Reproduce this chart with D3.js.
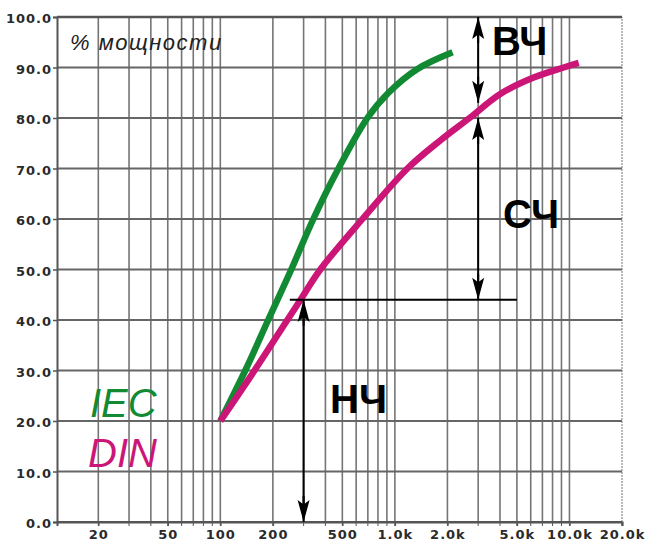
<!DOCTYPE html>
<html>
<head>
<meta charset="utf-8">
<script src="https://cdn.jsdelivr.net/npm/d3@7"></script>
<style>
    body { margin: 0; background: #fff; }
</style>
</head>
<body>
<div id="chart"></div>
<script>
// values
const iecFreq = [100, 139, 188, 255, 341, 475, 696, 919, 1348, 2140];
const iecPower = [20, 30, 40, 50, 60, 70, 80, 85, 89.7, 93];
const dinFreq = [100, 157, 242, 288, 374, 652, 1180, 1826, 2677, 4033, 6234, 9267, 11300];
const dinPower = [20, 30, 40, 44, 50, 60, 70, 75.6, 80, 84.8, 88, 90, 90.9];

const yTicks = [0, 10, 20, 30, 40, 50, 60, 70, 80, 90, 100];
const xGrid = [20, 30, 40, 50, 60, 70, 80, 90, 100, 200, 300, 400, 500, 600, 700, 800, 900,
    1000, 2000, 3000, 4000, 5000, 6000, 7000, 8000, 9000, 10000, 20000];
const xLabelTicks = [20, 50, 100, 200, 500, 1000, 2000, 5000, 10000, 20000];
const xLabels = ["20", "50", "100", "200", "500", "1.0k", "2.0k", "5.0k", "10.0k", "20.0k"];

// band split annotations (frequency, % power)
const lowFreq = 300, lowLevel = 44;
const splitLine = [250, 5000];
const midFreq = 3000, highTip = 83, midTip = 80;

const width = 665, height = 551;
const margin = { top: 17, right: 43, bottom: 29, left: 57 };

const svg = d3.select("#chart")
    .append("svg")
    .attr("width", width)
    .attr("height", height);

const x = d3.scaleLog().domain([11.6, 20000]).range([margin.left, width - margin.right]);
const y = d3.scaleLinear().domain([0, 100]).range([height - margin.bottom, margin.top]);

const gridGroup = svg.append("g").attr("class", "grid");

gridGroup.selectAll("line.v").data(xGrid).enter().append("line")
    .attr("class", "v")
    .attr("x1", d => x(d)).attr("x2", d => x(d))
    .attr("y1", y(0)).attr("y2", y(100))
    .attr("stroke", d => d == 20000 ? "#aaa" : "#757575")
    .attr("stroke-dasharray", d => d == 20000 ? "2,1" : null)
    .attr("stroke-width", 1.6);

gridGroup.selectAll("line.h").data(yTicks).enter().append("line")
    .attr("class", "h")
    .attr("x1", x.range()[0]).attr("x2", x.range()[1])
    .attr("y1", d => y(d)).attr("y2", d => y(d))
    .attr("stroke", d => d == 100 || d == 0 ? "#555" : "#666")
    .attr("stroke-width", d => d == 100 ? 2.5 : 1.8);

// left axis
const yAxis = d3.axisLeft(y).tickValues(yTicks).tickSize(4).tickFormat(d3.format(".1f"));
const yAxisGroup = svg.append("g")
    .attr("transform", `translate(${margin.left},0)`)
    .call(yAxis);
yAxisGroup.select(".domain").attr("stroke", "#555").attr("stroke-width", 2);

// bottom axis
const xAxis = d3.axisBottom(x).tickValues(xLabelTicks).tickSize(4)
    .tickFormat((d, i) => xLabels[i]);
const xAxisGroup = svg.append("g")
    .attr("transform", `translate(0,${y(0)})`)
    .call(xAxis);
xAxisGroup.select(".domain").attr("stroke", "#555").attr("stroke-width", 2);

svg.append("g")
    .selectAll("line").data(xGrid).enter().append("line")
    .attr("x1", d => x(d)).attr("x2", d => x(d))
    .attr("y1", y(0)).attr("y2", y(0) + 4)
    .attr("stroke", "#555");

svg.selectAll(".tick line").attr("stroke", "#555").attr("stroke-width", 1.5);
svg.selectAll(".tick text")
    .attr("font-family", "'DejaVu Sans', sans-serif")
    .attr("font-weight", "bold")
    .attr("font-size", 13)
    .attr("letter-spacing", 1)
    .attr("fill", "#2a2a2a");
yAxisGroup.selectAll(".tick text").attr("dy", "0.45em").attr("x", -5);
xAxisGroup.selectAll(".tick text").attr("y", 8);

// curves
const line = d3.line()
    .x(d => x(d[0]))
    .y(d => y(d[1]))
    .curve(d3.curveCatmullRom.alpha(0.5));

svg.append("path")
    .datum(iecFreq.map((f, i) => [f, iecPower[i]]))
    .attr("d", line)
    .attr("fill", "none")
    .attr("stroke", "#118a33")
    .attr("stroke-width", 6.5);

svg.append("path")
    .datum(dinFreq.map((f, i) => [f, dinPower[i]]))
    .attr("d", line)
    .attr("fill", "none")
    .attr("stroke", "#cc1677")
    .attr("stroke-width", 6.5);

// arrows
const annot = svg.append("g").attr("class", "annot");

const arrowHead = (px, py, dir) => {
    // dir: -1 points up, 1 points down
    const l = 26 * -dir, w = 6;
    annot.append("path")
        .attr("d", `M${px},${py} L${px + w},${py + l * 0.85} L${px + 1},${py + l * 0.7} L${px + 1},${py + l}`
            + ` L${px - 1},${py + l} L${px - 1},${py + l * 0.7} L${px - w},${py + l * 0.85} Z`)
        .attr("fill", "#000");
};

const vArrow = (f, v1, v2) => {
    annot.append("line")
        .attr("x1", x(f)).attr("x2", x(f))
        .attr("y1", y(v1)).attr("y2", y(v2))
        .attr("stroke", "#000").attr("stroke-width", 2);
    arrowHead(x(f), y(v1), -1);
    arrowHead(x(f), y(v2), 1);
};

annot.append("line")
    .attr("x1", x(splitLine[0])).attr("x2", x(splitLine[1]))
    .attr("y1", y(lowLevel)).attr("y2", y(lowLevel))
    .attr("stroke", "#000").attr("stroke-width", 2);

vArrow(lowFreq, lowLevel, 0);
vArrow(midFreq, 100, highTip);
vArrow(midFreq, midTip, lowLevel);

// labels
const bandLabel = (txt, px, py) => svg.append("text")
    .attr("x", px).attr("y", py)
    .attr("font-family", "'Liberation Sans', Arial, sans-serif")
    .attr("font-weight", "bold")
    .attr("font-size", 40)
    .attr("fill", "#000")
    .text(txt);

bandLabel("ВЧ", 492, 55);
bandLabel("СЧ", 503, 228);
bandLabel("НЧ", 330, 413);

svg.append("text")
    .attr("x", 70).attr("y", 50)
    .attr("font-family", "'Liberation Sans', Arial, sans-serif")
    .attr("font-style", "italic")
    .attr("font-size", 22)
    .attr("letter-spacing", 1.5)
    .attr("fill", "#222")
    .text("% мощности");

svg.append("text")
    .attr("x", 90).attr("y", 417)
    .attr("font-family", "'Liberation Sans', Arial, sans-serif")
    .attr("font-style", "italic")
    .attr("font-size", 40)
    .attr("fill", "#118a33")
    .text("IEC");

svg.append("text")
    .attr("x", 88).attr("y", 467)
    .attr("font-family", "'Liberation Sans', Arial, sans-serif")
    .attr("font-style", "italic")
    .attr("font-size", 40)
    .attr("fill", "#cc1677")
    .text("DIN");
</script>
</body>
</html>
